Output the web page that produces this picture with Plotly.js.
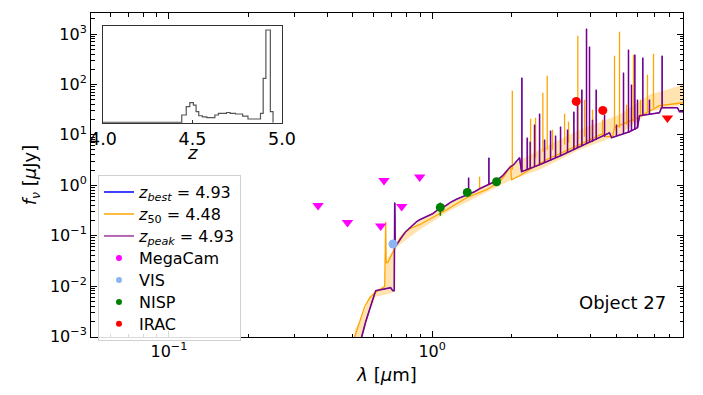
<!DOCTYPE html>
<html><head><meta charset="utf-8">
<script src="https://cdn.plot.ly/plotly-3.0.1.min.js"></script>
<style>html,body{margin:0;padding:0;background:#fff}</style>
</head><body><div id="chart" style="width:703px;height:395px"></div>
<script>
// ---- SED model: z_peak (= z_best) continuum ----
const lamPeak = [0.5215,0.5401,0.5593,0.5792,0.5946,0.6104,0.6321,0.6603,0.6960,0.7083,0.7177,0.7208,0.7240,0.7335,0.7530,0.7728,0.7933,0.8215,0.8434,0.8733,0.8966,0.9366,0.9784,1.0044,1.0401,1.0677,1.1252,1.1858,1.2496,1.3054,1.3755,1.4495,1.5142,1.5958,1.7575,1.8520,1.9685,2.0385,2.1479,2.1858,2.5585,3.0737,3.6288,4.3234,4.7174,4.8006,5.6182,6.0247,6.1309,7.3017,7.4305,8.5475,8.6982,9.0073];
const fPeak = [3.45e-4,9.86e-4,1.96e-3,3.71e-3,5.35e-3,8.07e-3,8.44e-3,8.84e-3,9.25e-3,8.07e-3,8.07e-3,0.450,0.0630,0.0660,0.0829,0.0995,0.1195,0.1435,0.1572,0.1887,0.2067,0.2265,0.2482,0.2720,0.3119,0.3418,0.3920,0.4708,0.5397,0.5913,0.6479,0.7431,0.8522,0.9774,1.228,1.543,2.225,2.551,3.513,1.853,2.551,3.849,5.806,8.76,11.0,8.76,11.52,13.83,23.93,27.45,34.49,34.49,28.73,28.73];
// emission lines of z_peak model: wavelength, continuum level, peak
const lamPeakLines = [1.3755,1.6425,2.1916,2.2975,2.3585,2.4490,2.5585,2.673,2.8166,2.9425,3.0737,3.267,3.4524,3.566,3.7025,3.8577,3.9602,4.066,4.2005,4.516,5.014,5.3312,5.5694,5.716,5.8843,6.0247,6.3097,6.691,7.476];
const basePeakLines = [0.648,1.023,1.853,2.030,2.125,2.328,2.551,2.796,3.063,3.513,3.849,4.413,5.063,5.546,6.077,6.658,6.97,7.296,7.996,9.17,9.60,10.51,11.0,12.06,12.62,13.83,23.93,25.05,34.49];
const topPeakLines = [1.409,3.513,135.8,8.76,7.296,15.87,26.22,7.996,12.06,9.60,14.48,12.62,28.73,49.7,78.5,1274,560,19.93,78.5,25.05,15.87,170.7,488,98.6,388.5,49.7,338.7,49.7,371];

// ---- SED model: z_50 ----
const lam50 = [0.4949,0.5081,0.5307,0.5543,0.5792,0.6050,0.6321,0.6603,0.6661,0.6690,0.6778,0.7021,0.7208,0.7530,0.7864,0.8215,0.8966,1.0044,1.1351,1.3517,1.6098,1.8040,1.8843,1.9858,2.0032,2.1479,2.7128,3.6288,4.4380,4.5954,4.843,4.928,6.1309,7.3017,9.0073];
const f50 = [3.45e-4,9.86e-4,1.96e-3,3.88e-3,5.86e-3,7.36e-3,8.44e-3,9.69e-3,0.1887,0.0290,0.0290,0.0418,0.0525,0.0868,0.1142,0.1371,0.1645,0.2265,0.3265,0.5649,0.814,1.173,1.543,2.438,1.285,1.543,3.206,6.362,10.51,9.17,9.17,13.83,22.86,37.8,43.35];
const lam50Lines = [1.5142,2.016,2.365,2.4705,2.633,2.736,2.8663,3.184,3.296,3.575,3.792,4.066,4.438,4.928,5.148,5.471,5.818,6.185,6.575,6.929];
const base50Lines = [0.814,2.030,3.206,3.513,4.620,5.063,5.063,6.362,6.97,7.996,9.17,10.51,10.51,12.62,13.83,15.87,18.19,25.05,28.73,34.49];
const top50Lines = [1.475,75.0,20.87,21.85,68.45,148.8,12.62,26.22,18.19,925,49.7,31.5,19.93,371,1111,39.56,388.5,49.7,155.8,406.6];

// ---- z_50 uncertainty band ----
const lamBand = [0.5081,0.5401,0.5792,0.6104,0.6603,0.6661,0.7083,0.7208,0.7530,0.8966,1.1653,1.5142,1.8040,2.0032,2.5585,3.6288,5.148,6.691,9.0073];
const bandLo = [3.45e-4,8.6e-4,3.09e-3,6.13e-3,6.72e-3,6.72e-3,7.36e-3,0.0525,0.0660,0.1309,0.3119,0.619,0.9774,1.285,2.030,5.063,10.05,28.73,39.56];
const bandHi = [1.358e-3,2.35e-3,6.13e-3,8.07e-3,0.01061,0.0303,0.0525,0.0660,0.0909,0.1975,0.4296,0.892,1.409,2.551,5.063,12.62,25.05,62.5,98.6];

// ---- photometry ----
const megacamLam = [0.3686,0.4768,0.6375,0.6562,0.766,0.8966];
const megacamF = [0.397,0.183,0.155,1.245,0.379,1.455];
const visLam = [0.7099];
const visF = [0.068];
const nispLam = [1.074,1.360,1.757];
const nispF = [0.363,0.72,1.173];
const nispErrHi = [0.09,0.03,0.04];
const nispErrLo = [0.115,0.03,0.04];
const iracLam = [3.526,4.449];
const iracF = [46.0,30.5];
const iracLimLam = [7.83];
const iracLimF = [21.5];

// ---- P(z) inset histogram ----
const zEdges = [4.00,4.44,4.465,4.485,4.505,4.52,4.535,4.555,4.58,4.625,4.645,4.69,4.71,4.74,4.78,4.81,4.88,4.895,4.91,4.935,4.95];
const zCounts = [0.004,0.083,0.173,0.216,0.19,0.12,0.075,0.062,0.054,0.083,0.10,0.11,0.10,0.094,0.072,0.04,0.10,0.478,1.0,0.12];

// ---- labels ----
const legendNames = ['<i>z</i><sub><i>best</i></sub> = 4.93','<i>z</i><sub>50</sub> = 4.48','<i>z</i><sub><i>peak</i></sub> = 4.93','MegaCam','VIS','NISP','IRAC'];
const yTickVals = [1e-3,1e-2,1e-1,1,10,100,1000];
const yTickText = ['10<sup>−3</sup>','10<sup>−2</sup>','10<sup>−1</sup>','10<sup>0</sup>','10<sup>1</sup>','10<sup>2</sup>','10<sup>3</sup>'];
const xTickVals = [0.1,1];
const xTickText = ['10<sup>−1</sup>','10<sup>0</sup>'];
const insetTickVals = [4.0,4.5,5.0];
const insetTickText = ['4.0','4.5','5.0'];

// helpers
function segs(lams, base, top){
  const x=[],y=[];
  for(let i=0;i<lams.length;i++){x.push(lams[i],lams[i],null);y.push(base[i],top[i],null);}
  return {x,y};
}
function minorVals(lo,hi){
  const v=[];
  for(let k=lo;k<=hi;k++) for(let m=2;m<=9;m++) v.push(m*Math.pow(10,k));
  return v;
}
const big = s => '<span style="font-size:16px">'+s+'</span>';
const stepX=[zEdges[0]].concat(zEdges);
const stepY=[0].concat(zCounts).concat([0]);

const C_BLUE='#0000ff', C_ORANGE='#ffa500', C_PURPLE='rgba(128,0,128,0.88)';
const pl=segs(lamPeakLines,basePeakLines,topPeakLines);
const ol=segs(lam50Lines,base50Lines,top50Lines);

const traces=[
  {x:lamBand,y:bandLo,mode:'lines',line:{width:0,color:'rgba(0,0,0,0)'},showlegend:false,hoverinfo:'skip'},
  {x:lamBand,y:bandHi,mode:'lines',line:{width:0,color:'rgba(0,0,0,0)'},fill:'tonexty',fillcolor:'rgba(255,165,0,0.3)',showlegend:false,hoverinfo:'skip'},
  {x:lamPeak,y:fPeak,mode:'lines',line:{color:C_BLUE,width:1},showlegend:false},
  {x:pl.x,y:pl.y,mode:'lines',line:{color:C_BLUE,width:1},showlegend:false,connectgaps:false},
  {x:lam50,y:f50,mode:'lines',line:{color:C_ORANGE,width:1.3},showlegend:false},
  {x:ol.x,y:ol.y,mode:'lines',line:{color:C_ORANGE,width:1.3},showlegend:false,connectgaps:false},
  {x:lamPeak,y:fPeak,mode:'lines',line:{color:C_PURPLE,width:1.6},showlegend:false},
  {x:pl.x,y:pl.y,mode:'lines',line:{color:C_PURPLE,width:1.6},showlegend:false,connectgaps:false},
  {x:megacamLam,y:megacamF,mode:'markers',marker:{symbol:'triangle-down',size:10,color:'#ff00ff'},showlegend:false},
  {x:visLam,y:visF,mode:'markers',marker:{symbol:'circle',size:9,color:'#8ab4f2'},showlegend:false},
  {x:nispLam,y:nispF,mode:'markers',marker:{symbol:'circle',size:9,color:'#008000'},
   error_y:{type:'data',symmetric:false,array:nispErrHi,arrayminus:nispErrLo,color:'#008000',thickness:1.5,width:0},showlegend:false},
  {x:iracLam,y:iracF,mode:'markers',marker:{symbol:'circle',size:9,color:'#ff0000'},showlegend:false},
  {x:iracLimLam,y:iracLimF,mode:'markers',marker:{symbol:'triangle-down',size:10,color:'#ff0000'},showlegend:false},
  // legend entries
  {x:[null],y:[null],mode:'lines',line:{color:C_BLUE,width:1.5},name:big(legendNames[0])},
  {x:[null],y:[null],mode:'lines',line:{color:C_ORANGE,width:1.5},name:big(legendNames[1])},
  {x:[null],y:[null],mode:'lines',line:{color:'rgba(128,0,128,0.6)',width:2},name:big(legendNames[2])},
  {x:[null],y:[null],mode:'markers',marker:{size:6,color:'#ff00ff'},name:big(legendNames[3])},
  {x:[null],y:[null],mode:'markers',marker:{size:6,color:'#8ab4f2'},name:big(legendNames[4])},
  {x:[null],y:[null],mode:'markers',marker:{size:6,color:'#008000'},name:big(legendNames[5])},
  {x:[null],y:[null],mode:'markers',marker:{size:6,color:'#ff0000'},name:big(legendNames[6])},
  // inset
  {x:stepX,y:stepY,xaxis:'x2',yaxis:'y2',mode:'lines',line:{shape:'hv',color:'#555',width:1.2},showlegend:false}
];

const FONT='DejaVu Sans, sans-serif';
const layout={
  width:703,height:395,
  margin:{l:91,r:20,t:13,b:58},
  paper_bgcolor:'#fff',plot_bgcolor:'#fff',
  font:{family:FONT,color:'#000',size:16},
  showlegend:true,
  legend:{x:0.0118,y:0.5,xanchor:'left',yanchor:'top',traceorder:'normal',bgcolor:'rgba(255,255,255,0.85)',bordercolor:'#d0d0d0',borderwidth:1,font:{size:14.6},tracegroupgap:0},
  xaxis:{type:'log',range:[-1.2958,0.9528],tickmode:'array',tickvals:xTickVals,ticktext:xTickText,
    ticks:'inside',ticklen:6,tickwidth:1,tickcolor:'#000',showline:true,linecolor:'#000',linewidth:1,mirror:'ticks',
    showgrid:false,zeroline:false,tickfont:{size:16},
    minor:{tickmode:'array',tickvals:minorVals(-2,0),ticks:'inside',ticklen:3.5,tickcolor:'#000',tickwidth:1,showgrid:false},
    title:{text:'<i>λ</i> [<i>μ</i>m]',font:{size:18},standoff:8}},
  yaxis:{type:'log',range:[-3.012,3.417],tickmode:'array',tickvals:yTickVals,ticktext:yTickText,
    ticks:'inside',ticklen:6,tickwidth:1,tickcolor:'#000',showline:true,linecolor:'#000',linewidth:1,mirror:'ticks',
    showgrid:false,zeroline:false,tickfont:{size:16},
    minor:{tickmode:'array',tickvals:minorVals(-3,3),ticks:'inside',ticklen:3.5,tickcolor:'#000',tickwidth:1,showgrid:false},
    title:{text:'<i>f</i><sub><i>ν</i></sub> [<i>μ</i>Jy]',font:{size:18},standoff:8}},
  xaxis2:{domain:[0.0203,0.3226],anchor:'y2',range:[4.0,5.0],tickmode:'array',tickvals:insetTickVals,ticktext:insetTickText,
    ticks:'inside',ticklen:3,tickcolor:'#333',showline:true,linecolor:'#333',linewidth:1,mirror:true,showgrid:false,zeroline:false,
    tickfont:{size:17.5}},
  yaxis2:{domain:[0.6614,0.9599],anchor:'x2',range:[0,1.043],showticklabels:false,ticks:'',showline:true,linecolor:'#333',linewidth:1,mirror:true,showgrid:false,zeroline:false},
  annotations:[
    {text:'Object 27',xref:'paper',yref:'paper',x:0.9747,y:0.108,xanchor:'right',yanchor:'middle',showarrow:false,font:{size:18}},
    {text:'<i>z</i>',xref:'paper',yref:'paper',x:0.171,y:(337-152)/324,xanchor:'center',yanchor:'middle',showarrow:false,font:{size:18}}
  ]
};
Plotly.newPlot('chart',traces,layout,{staticPlot:true,displayModeBar:false});
</script></body></html>
